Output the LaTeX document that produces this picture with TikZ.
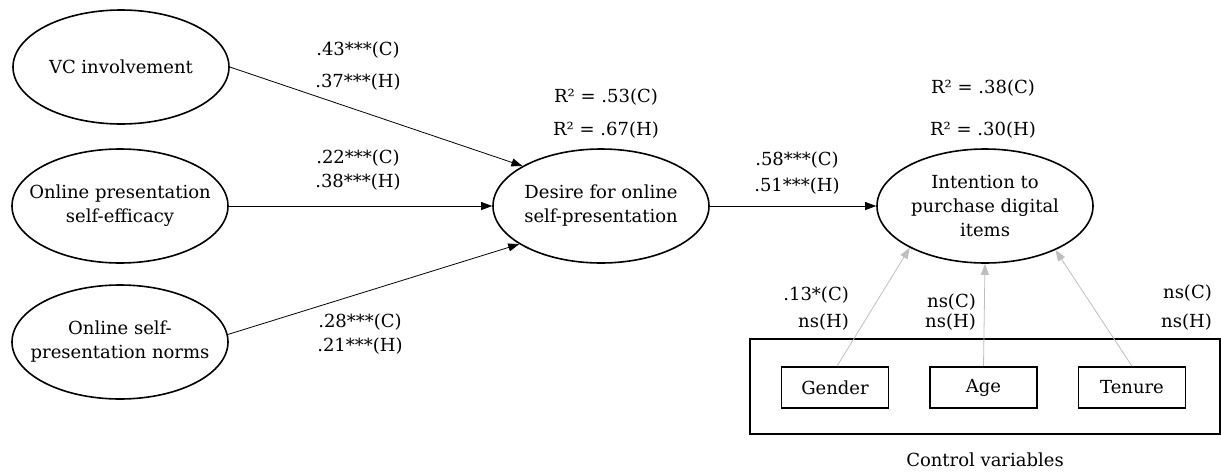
\documentclass[tikz,border=0pt]{standalone}
\usepackage{fontspec}
\setmainfont{DejaVu Serif}
\usetikzlibrary{shapes.geometric,arrows.meta}
\definecolor{ctlgray}{RGB}{190,190,190}
\begin{document}
\begin{tikzpicture}[x=1pt,y=-1pt,
  lat/.style={ellipse,draw,line width=1.6pt,minimum width=216pt,minimum height=114pt,inner xsep=-25pt,inner ysep=-6pt,align=center,font=\fontsize{18}{24}\selectfont},
  lbl/.style={font=\fontsize{18}{22}\selectfont,inner sep=0pt},
  ctl/.style={draw,line width=1.6pt,minimum width=107pt,minimum height=41pt,inner sep=0pt,font=\fontsize{18}{22}\selectfont},
  conn/.style={line width=0.8pt,-{Triangle[length=11pt,width=8pt]}},
  ctlconn/.style={draw=ctlgray,line width=0.8pt,-{Triangle[length=11pt,width=8pt]}}]
\useasboundingbox (0,0) rectangle (1221,472);
% latent variables
\node[lat] (vc) at (121,67) {VC involvement};
\node[lat] (eff) at (120,206) {Online presentation\\self-efficacy};
\node[lat] (nor) at (120,342) {Online self-\\presentation norms};
\node[lat] (des) at (601,206) {Desire for online\\self-presentation};
\node[lat] (int) at (985,206) {Intention to\\purchase digital\\items};
% control variables
\node[draw,line width=1.6pt,minimum width=470pt,minimum height=95pt,inner sep=0pt] (cbox) at (985,386.5) {};
\node[ctl] (gen) at (835,387.5) {Gender};
\node[ctl] (age) at (983.5,387.5) {Age};
\node[ctl] (ten) at (1132,387.5) {Tenure};
\node[lbl] (cvl) at (985,460) {Control variables};
% connectors
\draw[conn] (vc.east) -- (des.153);
\draw[conn] (eff.east) -- (des.west);
\draw[conn] (nor.4) -- (des.205);
\draw[conn] (des.east) -- (int.west);
\draw[ctlconn] ([xshift=2pt]gen.north) -- (int.209);
\draw[ctlconn] (age.north) -- (int.south);
\draw[ctlconn] (ten.north) -- (int.328);
% coefficient labels
\node[lbl] (l1a) at (358,50) {.43***(C)};
\node[lbl] (l1b) at (358,82) {.37***(H)};
\node[lbl] (l2a) at (358,158) {.22***(C)};
\node[lbl] (l2b) at (358,182) {.38***(H)};
\node[lbl] (l3a) at (360,322) {.28***(C)};
\node[lbl] (l3b) at (360,346) {.21***(H)};
\node[lbl] (r1a) at (606,97) {R² = .53(C)};
\node[lbl] (r1b) at (606,130) {R² = .67(H)};
\node[lbl] (l4a) at (797,160) {.58***(C)};
\node[lbl] (l4b) at (797,186) {.51***(H)};
\node[lbl] (r2a) at (983,88) {R² = .38(C)};
\node[lbl] (r2b) at (983,130) {R² = .30(H)};
\node[lbl,anchor=east] (g1) at (849,295) {.13*(C)};
\node[lbl,anchor=east] (g2) at (849,322) {ns(H)};
\node[lbl,anchor=east] (a1) at (976,302) {ns(C)};
\node[lbl,anchor=east] (a2) at (976,322) {ns(H)};
\node[lbl,anchor=east] (t1) at (1212,293) {ns(C)};
\node[lbl,anchor=east] (t2) at (1212,322) {ns(H)};
\end{tikzpicture}
\end{document}
